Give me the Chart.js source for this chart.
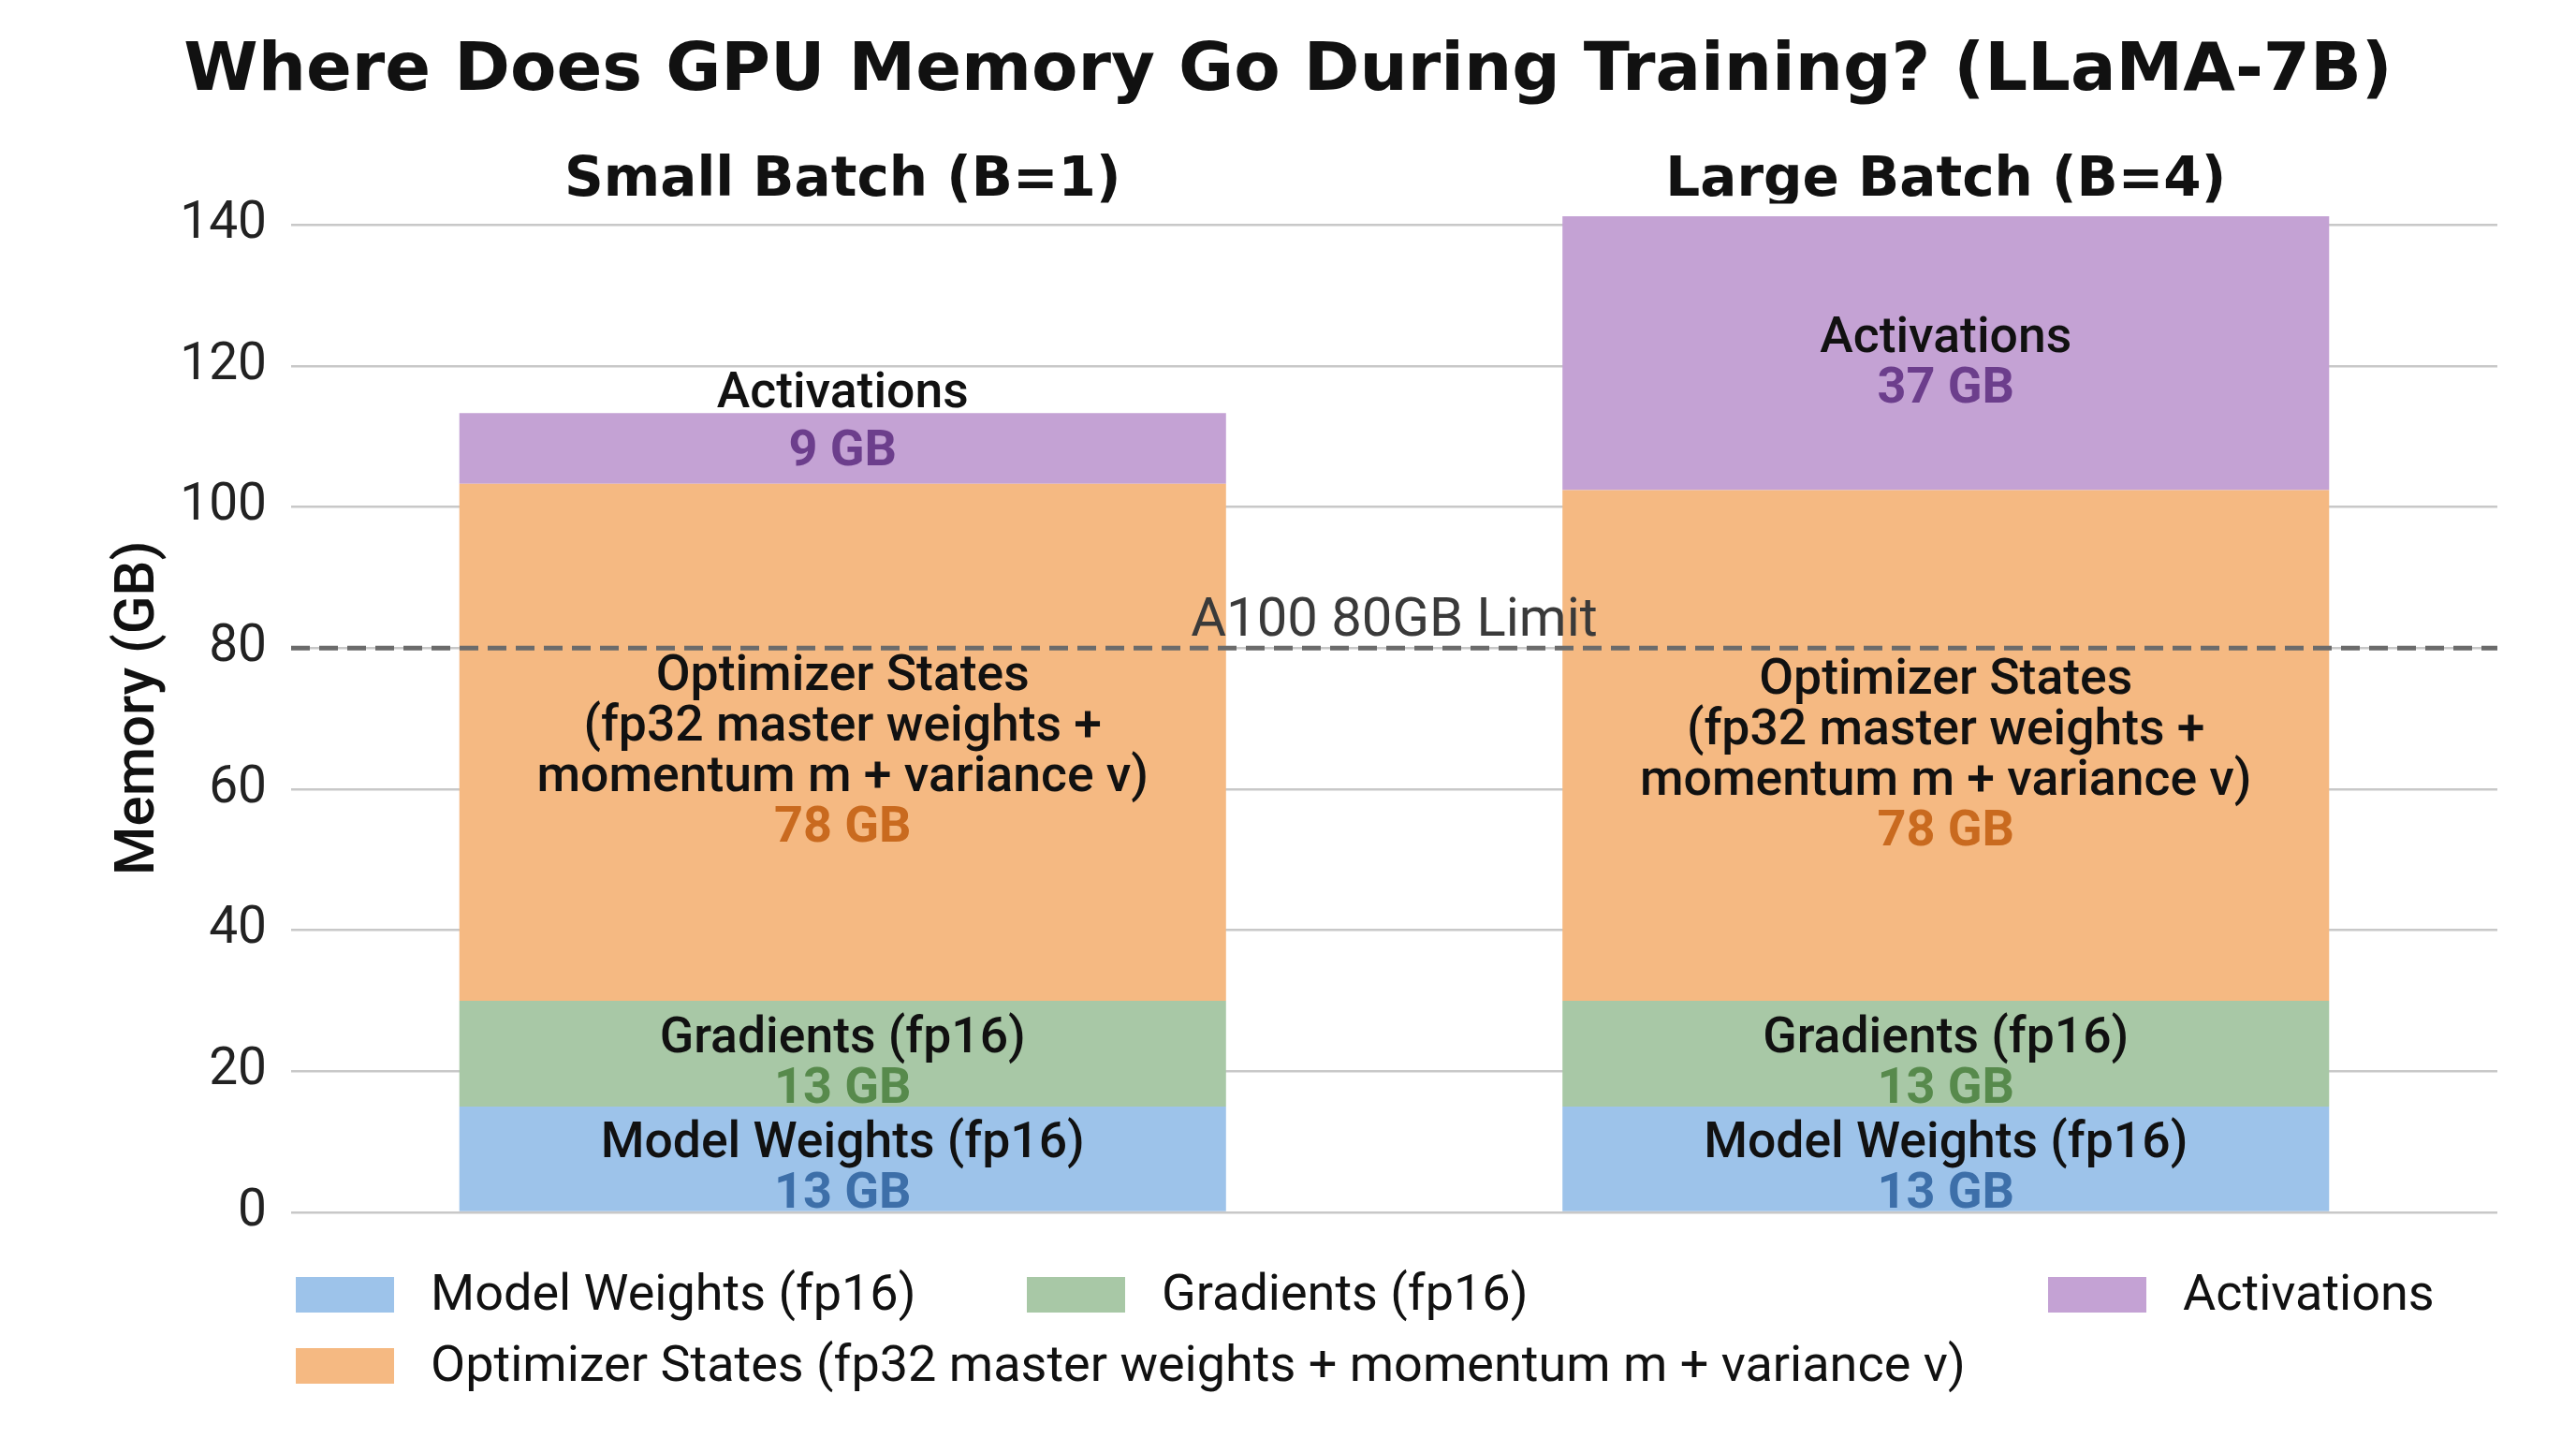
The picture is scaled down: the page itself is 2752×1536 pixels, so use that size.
<!DOCTYPE html>
<html>
<head>
<meta charset="utf-8">
<script src="https://cdn.jsdelivr.net/npm/chart.js@4.4.1/dist/chart.umd.min.js"></script>
<style>
html, body { margin: 0; padding: 0; background: #ffffff; }
</style>
</head>
<body>
<canvas id="memChart" width="2752" height="1536"></canvas>
<script>
// values (bar heights, GB)
var categories = ['Small Batch (B=1)', 'Large Batch (B=4)'];
var weightsGB = [15, 15];
var gradientsGB = [15, 15];
var optimizerGB = [73.3, 72.4];
var activationsGB = [10, 38.8];

// numbers printed inside the segments
var weightsText = [13, 13];
var gradientsText = [13, 13];
var optimizerText = [78, 78];
var activationsText = [9, 37];

var yTicks = [0, 20, 40, 60, 80, 100, 120, 140];
var limitGB = 80;
var limitLabel = 'A100 80GB Limit';

var seriesNames = [
	'Model Weights (fp16)',
	'Gradients (fp16)',
	'Optimizer States (fp32 master weights + momentum m + variance v)',
	'Activations'
];

var limitLine = {
	id: 'limitLine',
	afterDatasetsDraw: function(chart) {
		var ctx = chart.ctx;
		var area = chart.chartArea;
		var y = chart.scales.y.getPixelForValue(limitGB);
		ctx.save();
		ctx.strokeStyle = '#6b6b6b';
		ctx.lineWidth = 5;
		ctx.setLineDash([20, 10]);
		ctx.beginPath();
		ctx.moveTo(area.left, y);
		ctx.lineTo(area.right, y);
		ctx.stroke();
		ctx.setLineDash([]);
		ctx.font = '58px Roboto';
		ctx.fillStyle = '#3a3a3a';
		ctx.textAlign = 'center';
		ctx.textBaseline = 'alphabetic';
		ctx.fillText(limitLabel, (area.left + area.right) / 2, y - 13);
		ctx.restore();
	}
};

var segmentLabels = {
	id: 'segmentLabels',
	afterDatasetsDraw: function(chart) {
		var ctx = chart.ctx;
		var lineH = 54;
		ctx.save();
		ctx.textAlign = 'center';
		ctx.textBaseline = 'middle';
		chart.data.datasets.forEach(function(ds, i) {
			var meta = chart.getDatasetMeta(i);
			meta.data.forEach(function(bar, j) {
				var top = bar.y;
				var bottom = bar.base;
				var lines = ds.nameLines;
				var blockH = (lines.length + 1) * lineH;
				var valueY, gap = lineH;
				if (blockH > bottom - top) {
					// too thin: value in the middle, name sits above
					valueY = (top + bottom) / 2 + 5;
					gap = lineH + 8;
				} else {
					valueY = (top + bottom) / 2 + 12 + blockH / 2 - lineH / 2;
				}
				ctx.font = '500 53.5px Roboto';
				ctx.fillStyle = '#111111';
				for (var k = 0; k < lines.length; k++) {
					ctx.fillText(lines[k], bar.x, valueY - gap - (lines.length - 1 - k) * lineH);
				}
				ctx.font = 'bold 54px Roboto';
				ctx.fillStyle = ds.valueColor;
				ctx.fillText(ds.shownGB[j] + ' GB', bar.x, valueY);
			});
		});
		ctx.restore();
	}
};

var bottomLegend = {
	id: 'bottomLegend',
	afterDraw: function(chart) {
		var ctx = chart.ctx;
		// [dataset index, column x, row y]
		var slots = [[0, 316, 1383], [1, 1097, 1383], [3, 2188, 1383], [2, 316, 1459]];
		ctx.save();
		ctx.font = '54px Roboto';
		ctx.textAlign = 'left';
		ctx.textBaseline = 'middle';
		slots.forEach(function(s) {
			var ds = chart.data.datasets[s[0]];
			ctx.fillStyle = ds.backgroundColor;
			ctx.fillRect(s[1], s[2] - 19, 105, 38);
			ctx.fillStyle = '#111111';
			ctx.fillText(ds.label, s[1] + 144, s[2] + 2);
		});
		ctx.restore();
	}
};

var memChart = new Chart(document.getElementById('memChart'), {
	type: 'bar',
	data: {
		labels: categories,
		datasets: [
			{ label: seriesNames[0], data: weightsGB, backgroundColor: '#9dc3ea', shownGB: weightsText,
				nameLines: ['Model Weights (fp16)'], valueColor: '#3d6fa9' },
			{ label: seriesNames[1], data: gradientsGB, backgroundColor: '#a8c8a6', shownGB: gradientsText,
				nameLines: ['Gradients (fp16)'], valueColor: '#578a4c' },
			{ label: seriesNames[2], data: optimizerGB, backgroundColor: '#f5b982', shownGB: optimizerText,
				nameLines: ['Optimizer States', '(fp32 master weights +', 'momentum m + variance v)'], valueColor: '#c96a1f' },
			{ label: seriesNames[3], data: activationsGB, backgroundColor: '#c4a2d4', shownGB: activationsText,
				nameLines: ['Activations'], valueColor: '#6c3e8c' }
		]
	},
	options: {
		responsive: false,
		animation: false,
		devicePixelRatio: 1,
		layout: {
			padding: { left: 84, right: 84, top: 0, bottom: 241 }
		},
		datasets: {
			bar: { categoryPercentage: 0.695, barPercentage: 1.0, borderWidth: 0 }
		},
		plugins: {
			legend: { display: false },
			tooltip: { enabled: false },
			title: {
				display: true,
				text: 'Where Does GPU Memory Go During Training? (LLaMA-7B)',
				color: '#111111',
				font: { family: 'DejaVu Sans', weight: 'bold', size: 72 },
				padding: { top: 34, bottom: 7 }
			}
		},
		scales: {
			x: {
				stacked: true,
				position: 'top',
				grid: { display: false },
				border: { display: false },
				ticks: {
					color: '#111111',
					padding: -19,
					font: { family: 'DejaVu Sans', weight: 'bold', size: 58 }
				},
				afterFit: function(scale) { scale.height = 90.1; }
			},
			y: {
				stacked: true,
				min: 0,
				max: 143,
				afterBuildTicks: function(scale) {
					scale.ticks = yTicks.map(function(v) { return { value: v }; });
				},
				afterFit: function(scale) { scale.width = 227; },
				grid: { color: '#c8c8c8', lineWidth: 2.5, drawTicks: false },
				border: { display: false },
				ticks: {
					color: '#222222',
					padding: 26,
					font: { family: 'Roboto', size: 55 }
				},
				title: {
					display: true,
					text: 'Memory (GB)',
					color: '#111111',
					font: { family: 'Roboto', weight: '500', size: 60 },
					padding: { top: 29, bottom: 0 }
				}
			}
		}
	},
	plugins: [limitLine, segmentLabels, bottomLegend]
});
</script>
</body>
</html>
